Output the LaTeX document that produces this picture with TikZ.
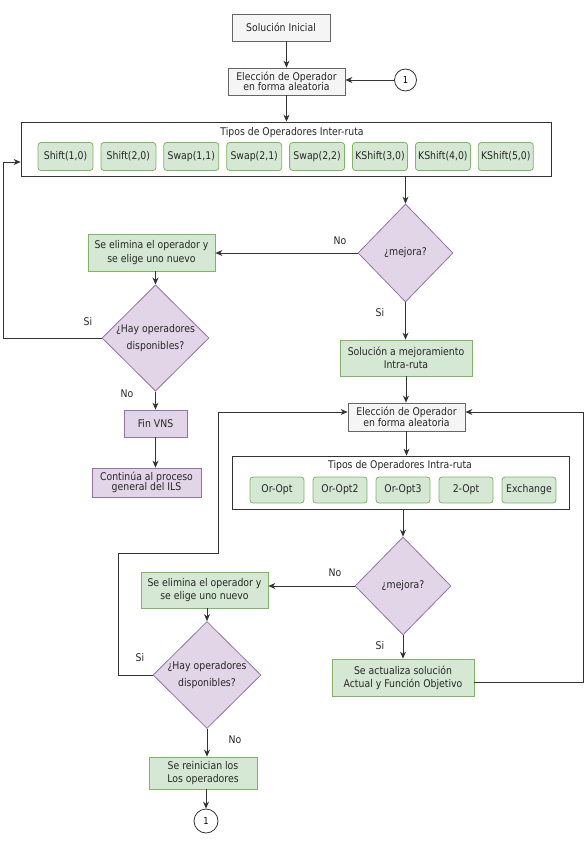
\documentclass[tikz,border=0pt]{standalone}
\usepackage{fontspec}
\setmainfont[FakeStretch=0.88]{DejaVu Sans}
\usepackage{xcolor}
\usepackage{tikz}
\usetikzlibrary{arrows.meta, shapes.geometric}

\definecolor{verdefondo}{HTML}{D5E8D4}
\definecolor{verdeborde}{HTML}{82B366}
\definecolor{lilafondo}{HTML}{E1D5E7}
\definecolor{lilaborde}{HTML}{9673A6}
\definecolor{grisfondo}{HTML}{F5F5F5}
\definecolor{grisborde}{HTML}{666666}
\definecolor{trazo}{HTML}{333333}

\tikzset{
	caja/.style={draw, line width=0.8pt, inner sep=0pt, align=center, text=black!85,
		font={\fontsize{10.6}{12}\selectfont}},
	grisbox/.style={caja, draw=grisborde, fill=grisfondo},
	verdebox/.style={caja, draw=verdeborde, fill=verdefondo},
	lilabox/.style={caja, draw=lilaborde, fill=lilafondo},
	opbox/.style={verdebox, rounded corners=3pt, minimum width=55pt, minimum height=28pt},
	marco/.style={draw=trazo, line width=0.8pt, fill=white},
	decision/.style={caja, diamond, draw=lilaborde, fill=lilafondo},
	conector/.style={draw=trazo, circle, line width=0.8pt, inner sep=0pt, font={\fontsize{9.5}{10}\selectfont}},
	flecha/.style={draw=trazo, line width=0.8pt, -{Stealth[length=7pt,width=6pt]}},
	etiqueta/.style={text=black!85, font={\fontsize{10.6}{12}\selectfont}}
}

\begin{document}
\begin{tikzpicture}[x=1pt, y=-1pt]
	\useasboundingbox (0,0) rectangle (584,859);

	% Inicio
	\node[grisbox, minimum width=98pt, minimum height=27pt] (ini) at (281,27.5) {Solución Inicial};
	\node[grisbox, minimum width=117pt, minimum height=27pt, font={\fontsize{10.6}{10.5}\selectfont}] (ele1) at (286.5,81.5) {Elección de Operador\\en forma aleatoria};
	\node[conector, minimum size=22pt] (c1) at (405.5,80) {1};

	% Operadores inter-ruta
	\node[marco, minimum width=530pt, minimum height=54pt] (inter) at (286,149) {};
	\node[etiqueta] (titinter) at (292,133) {Tipos de Operadores Inter-ruta};
	\foreach \op [count=\i from 0] in {{Shift(1,0)},{Shift(2,0)},{Swap(1,1)},{Swap(2,1)},{Swap(2,2)},{KShift(3,0)},{KShift(4,0)},{KShift(5,0)}}
		\node[opbox] (inter\i) at ({65.5+62.9*\i},156.5) {\op};

	% Primera decision
	\node[decision, minimum width=95pt, minimum height=98pt] (mej1) at (405.5,253) {¿mejora?};
	\node[verdebox, minimum width=127pt, minimum height=37pt, font={\fontsize{10.6}{14.5}\selectfont}] (eli1) at (151.5,252.5) {Se elimina el operador y\\se elige uno nuevo};
	\node[decision, minimum width=107pt, minimum height=106pt, font={\fontsize{10.6}{17}\selectfont}] (hay1) at (155.5,338) {¿Hay operadores\\disponibles?};
	\node[lilabox, minimum width=63pt, minimum height=27pt] (fin) at (155.5,423.5) {Fin VNS};
	\node[lilabox, minimum width=109pt, minimum height=29pt, font={\fontsize{10.6}{10.5}\selectfont}] (cont) at (146.5,482.5) {Continúa al proceso\\general del ILS};
	\node[verdebox, minimum width=132pt, minimum height=36pt, font={\fontsize{10.6}{13}\selectfont}] (sol) at (406,358) {Solución a mejoramiento\\Intra-ruta};

	% Operadores intra-ruta
	\node[grisbox, minimum width=117pt, minimum height=28pt, font={\fontsize{10.6}{10.5}\selectfont}] (ele2) at (406.5,417) {Elección de Operador\\en forma aleatoria};
	\node[marco, minimum width=337pt, minimum height=53pt] (intra) at (400.5,482.5) {};
	\node[etiqueta] (titintra) at (400,466) {Tipos de Operadores Intra-ruta};
	\foreach \op [count=\i from 0] in {Or-Opt,Or-Opt2,Or-Opt3,2-Opt,Exchange}
		\node[opbox, minimum width=54pt, minimum height=26pt] (intra\i) at ({277+63*\i},490) {\op};

	% Segunda decision
	\node[decision, minimum width=96pt, minimum height=98pt] (mej2) at (403,586) {¿mejora?};
	\node[verdebox, minimum width=127pt, minimum height=36pt, font={\fontsize{10.6}{13.5}\selectfont}] (eli2) at (204.5,590) {Se elimina el operador y\\se elige uno nuevo};
	\node[decision, minimum width=108pt, minimum height=107pt, font={\fontsize{10.6}{17}\selectfont}] (hay2) at (207,675) {¿Hay operadores\\disponibles?};
	\node[verdebox, minimum width=108pt, minimum height=32pt, font={\fontsize{10.6}{13}\selectfont}] (res) at (203,773) {Se reinician los\\Los operadores};
	\node[conector, minimum size=24pt] (c2) at (206,821) {1};
	\node[verdebox, minimum width=142pt, minimum height=37pt, font={\fontsize{10.6}{13}\selectfont}] (act) at (403,677.5) {Se actualiza solución\\Actual y Función Objetivo};

	% Etiquetas
	\node[etiqueta] (no1) at (340,241) {No};
	\node[etiqueta] (si1) at (380,313) {Si};
	\node[etiqueta] (si2) at (88,322) {Si};
	\node[etiqueta] (no2) at (127,394) {No};
	\node[etiqueta] (no3) at (335,573) {No};
	\node[etiqueta] (si3) at (380,646) {Si};
	\node[etiqueta] (si4) at (140,658) {Si};
	\node[etiqueta] (no4) at (235,740) {No};

	% Puntos de retorno
	\coordinate (lazoA) at (3,0);
	\coordinate (lazoB) at (118,553);
	\coordinate (lazoC) at (218,553);
	\coordinate (lazoD) at (583,0);

	% Conexiones
	\draw[flecha] (ele1.north |- ini.south) -- (ele1.north);
	\draw[flecha] (c1.west) -- (c1.west -| ele1.east);
	\draw[flecha] (ele1.south) -- (ele1.south |- inter.north);
	\draw[flecha] (mej1.north |- inter.south) -- (mej1.north);
	\draw[flecha] (mej1.west) -- (mej1.west -| eli1.east);
	\draw[flecha] (hay1.north |- eli1.south) -- (hay1.north);
	\draw[flecha] (hay1.west) -- (hay1.west -| lazoA) |- ([yshift=-13pt]inter.west);
	\draw[flecha] (hay1.south) -- (fin.north);
	\draw[flecha] (fin.south) -- (fin.south |- cont.north);
	\draw[flecha] (mej1.south) -- (mej1.south |- sol.north);
	\draw[flecha] (sol.south) -- (sol.south |- ele2.north);
	\draw[flecha] (ele2.south) -- (ele2.south |- intra.north);
	\draw[flecha] (mej2.north |- intra.south) -- (mej2.north);
	\draw[flecha] (mej2.west) -- (mej2.west -| eli2.east);
	\draw[flecha] (hay2.north |- eli2.south) -- (hay2.north);
	\draw[flecha] (hay2.west) -| (lazoB) -- (lazoC) |- ([yshift=5pt]ele2.west);
	\draw[flecha] (hay2.south) -- (hay2.south |- res.north);
	\draw[flecha] (c2.north |- res.south) -- (c2.north);
	\draw[flecha] (mej2.south) -- (act.north);
	\draw[flecha] ([yshift=-5pt]act.east) -- ([yshift=-5pt]act.east -| lazoD) |- ([yshift=5pt]ele2.east);
\end{tikzpicture}
\end{document}
